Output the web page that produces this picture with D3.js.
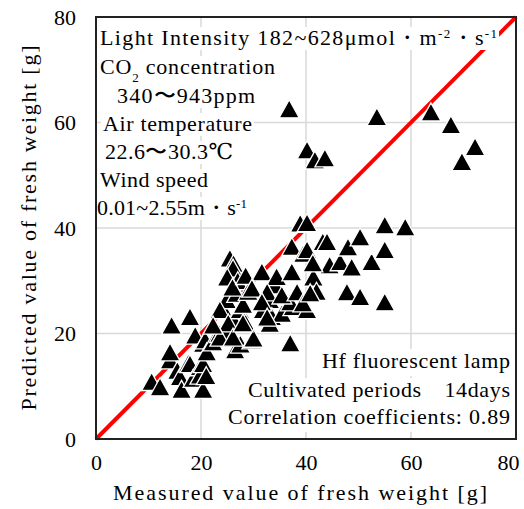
<!DOCTYPE html>
<html>
<head>
<meta charset="utf-8">
<script src="https://cdn.jsdelivr.net/npm/d3@7"></script>
<style>
  body { margin: 0; background: #fff; }
</style>
</head>
<body>
<div id="chart"></div>
<script>
// measured / predicted fresh weight [g]
const measured = [
  10.6, 12.2, 14.1, 14.4, 14.1, 15.5, 16.0, 16.3, 17.6, 17.9, 17.9, 18.5, 18.9, 19.8, 19.8, 20.4, 20.4, 20.4, 20.8, 21.1, 22.3, 21.0,
  23.5, 24.3, 24.9, 24.9, 25.5, 26.2, 26.1, 26.2, 26.5, 26.8, 27.4, 27.0, 27.5, 28.0, 28.5, 29.0, 29.7, 30.0, 31.6, 31.8, 33.1, 33.1,
  33.5, 34.1, 34.4, 35.4, 37.0, 37.5, 37.0, 37.3, 37.3, 38.9, 39.5, 40.2, 40.2, 40.2, 41.4, 42.0, 43.2, 44.0, 44.5, 46.5, 47.8, 48.0,
  48.7, 50.3, 50.3, 52.5, 55.0, 55.0, 58.9, 55.0,
  25.0, 26.0, 28.5, 23.6, 25.2, 29.7, 32.6, 31.6, 32.6, 35.4, 38.3, 39.4, 40.8, 41.3, 23.6, 26.1, 22.3, 28.0,
  36.8, 53.5, 63.8, 67.6, 72.2, 69.7, 40.2, 41.7, 43.6
];
const predicted = [
  10.9, 9.9, 15.0, 21.6, 16.5, 13.0, 11.8, 9.4, 14.4, 23.2, 14.3, 11.5, 19.7, 13.7, 12.1, 9.4, 14.3, 18.1, 18.8, 16.5, 18.4, 12.0,
  20.0, 24.5, 20.0, 26.4, 34.3, 33.3, 32.4, 22.6, 16.9, 27.6, 24.5, 30.0, 18.0, 25.5, 22.0, 28.0, 18.8, 19.1, 31.7, 24.5, 26.4, 21.9,
  23.2, 29.2, 30.8, 23.8, 18.2, 25.1, 26.0, 31.7, 36.5, 40.9, 35.2, 24.5, 35.9, 41.0, 30.7, 28.0, 37.4, 37.4, 33.0, 33.6, 27.9, 36.4,
  32.6, 38.3, 27.0, 33.6, 35.9, 40.6, 40.2, 26.0,
  30.7, 28.8, 31.0, 24.5, 22.0, 28.6, 27.9, 26.0, 23.1, 27.3, 27.9, 25.8, 27.7, 33.4, 19.3, 19.3, 21.6, 22.0,
  62.6, 61.1, 62.0, 59.6, 55.4, 52.6, 54.8, 52.9, 53.3
];
const ticks = [0, 20, 40, 60, 80];
const gridTicks = [20, 40, 60];

const conditions = [
  ["Light Intensity  182~628μmol・m", {sup: "-2"}, "・s", {sup: "-1"}],
  ["CO", {sub: "2"}, " concentration"],
  ["340〜943ppm"],
  ["Air temperature"],
  ["22.6〜30.3℃"],
  ["Wind speed"],
  ["0.01~2.55m・s", {sup: "-1"}]
];
const summary = ["Hf fluorescent lamp", "Cultivated periods　14days", "Correlation coefficients: 0.89"];

const FONT = '"Liberation Serif", "Times New Roman", Times, "DejaVu Serif", serif';
const W = 524, H = 509;
const svg = d3.select("#chart").append("svg").attr("width", W).attr("height", H)
  .style("font-family", FONT);

const x = d3.scaleLinear().domain([0, 80]).range([96, 516]);
const y = d3.scaleLinear().domain([0, 80]).range([439, 17]);

// grid
svg.append("g").selectAll("line").data(gridTicks).join("line")
  .attr("x1", d => x(d)).attr("x2", d => x(d)).attr("y1", y(0)).attr("y2", y(80))
  .attr("stroke", "#d9d9d9").attr("stroke-width", 1.5);
svg.append("g").selectAll("line").data(gridTicks).join("line")
  .attr("y1", d => y(d)).attr("y2", d => y(d)).attr("x1", x(0)).attr("x2", x(80))
  .attr("stroke", "#d9d9d9").attr("stroke-width", 1.5);

// 1:1 line
svg.append("line")
  .attr("x1", x(0)).attr("y1", y(0)).attr("x2", x(80)).attr("y2", y(80))
  .attr("stroke", "#ff0000").attr("stroke-width", 4);

// markers
const tri = "M0,-9L10,9L-10,9Z";
svg.append("g").selectAll("path").data(d3.range(measured.length)).join("path")
  .attr("d", tri)
  .attr("transform", i => `translate(${x(measured[i])},${y(predicted[i])})`)
  .attr("fill", "#000").attr("stroke", "#fff").attr("stroke-width", 1.3);

// axes
const ax = svg.append("g").attr("transform", `translate(0,${y(0)})`)
  .call(d3.axisBottom(x).tickValues(ticks).tickSize(0).tickPadding(15));
ax.attr("font-family", null).attr("font-size", null);
ax.select(".domain").remove();
ax.selectAll("text").style("font-size", "22px").style("font-family", FONT);
ax.selectAll("text").filter(d => d == 80).attr("text-anchor", "end").attr("dx", "3");

const ay = svg.append("g").attr("transform", `translate(${x(0)},0)`)
  .call(d3.axisLeft(y).tickValues(ticks).tickSize(0).tickPadding(20));
ay.attr("font-family", null).attr("font-size", null);
ay.select(".domain").remove();
ay.selectAll("text").style("font-size", "22px").style("font-family", FONT);

svg.append("text").attr("x", 300).attr("y", 500).attr("text-anchor", "middle")
  .style("font-size", "22px").style("font-family", FONT)
  .attr("textLength", 374).attr("lengthAdjust", "spacing")
  .text("Measured value of fresh weight [g]");
svg.append("text").attr("transform", "translate(36,228) rotate(-90)").attr("text-anchor", "middle")
  .style("font-size", "22px").style("font-family", FONT)
  .attr("textLength", 365).attr("lengthAdjust", "spacing")
  .text("Predicted value of fresh weight [g]");

// condition text block (each line on its own white box)
const condX = [100, 100, 117, 103, 105, 100, 97];
const condY = [45, 74, 103, 131, 159, 187, 215];
const condLen = [397, 175, 138, 149, 128, 108, 150];
const condG = svg.append("g");
conditions.forEach((parts, i) => {
  const g = condG.append("g");
  const rect = g.append("rect").attr("fill", "#fff");
  const t = g.append("text").attr("x", condX[i]).attr("y", condY[i])
    .attr("textLength", condLen[i]).attr("lengthAdjust", "spacing")
    .style("font-size", "22px").style("font-family", FONT);
  parts.forEach(p => {
    if (typeof p === "string") t.append("tspan").text(p);
    else if (p.sup) t.append("tspan").attr("baseline-shift", "super").style("font-size", "13px").text(p.sup);
    else if (p.sub) t.append("tspan").attr("baseline-shift", "sub").style("font-size", "13px").text(p.sub);
  });
  const b = t.node().getBBox();
  rect.attr("x", b.x - 2).attr("y", b.y + 2).attr("width", b.width + 4).attr("height", b.height - 2);
});

// summary block, right aligned
const sumY = [368, 397, 424];
const sumLen = [188, 262, 282];
const sumG = svg.append("g");
summary.forEach((s, i) => {
  const rect = sumG.append("rect").attr("fill", "#fff");
  const t = sumG.append("text").attr("x", 510).attr("y", sumY[i]).attr("text-anchor", "end")
    .attr("textLength", sumLen[i]).attr("lengthAdjust", "spacing")
    .style("font-size", "22px").style("font-family", FONT).text(s);
  const b = t.node().getBBox();
  rect.attr("x", b.x - 3).attr("y", b.y + 1).attr("width", 515 - b.x).attr("height", b.height + 2);
});

// frame
svg.append("rect").attr("x", x(0)).attr("y", y(80))
  .attr("width", x(80) - x(0)).attr("height", y(0) - y(80))
  .attr("fill", "none").attr("stroke", "#222").attr("stroke-width", 2);
</script>
</body>
</html>
